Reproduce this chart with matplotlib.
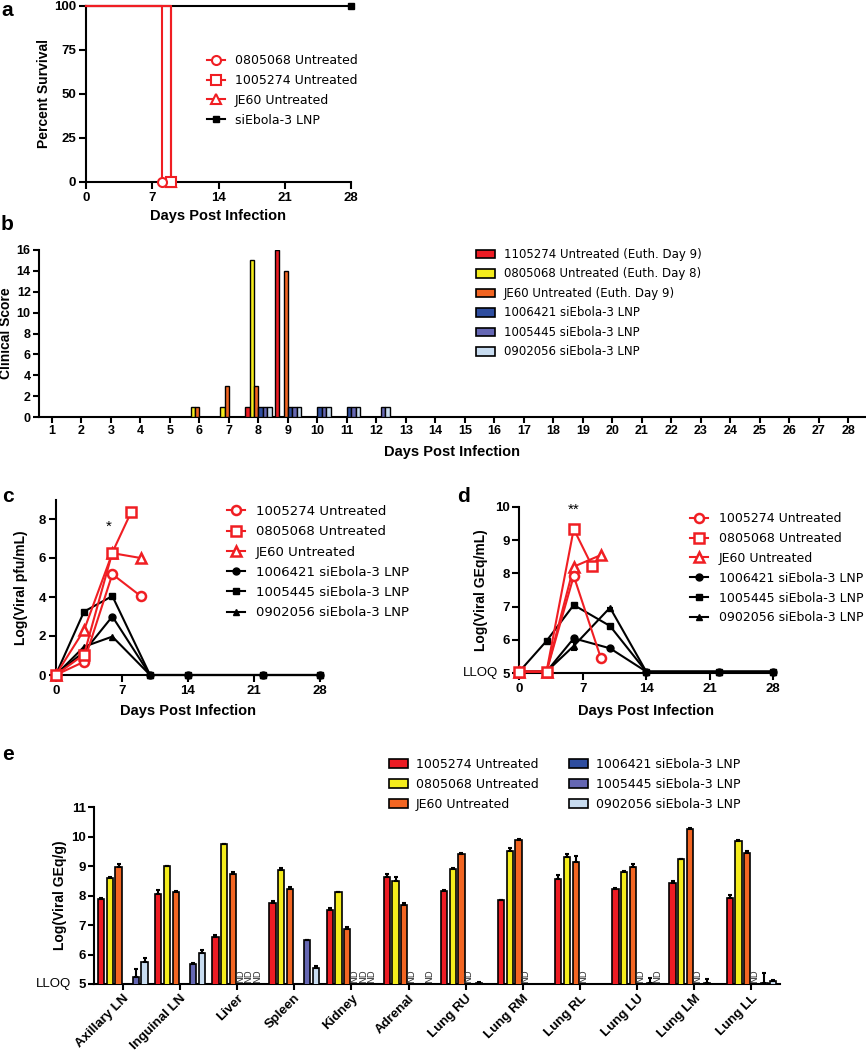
import numpy as np
import matplotlib
matplotlib.use("Agg")
import matplotlib.pyplot as plt
from matplotlib.patches import Patch
from matplotlib.lines import Line2D

plt.rcParams['font.family'] = ['Liberation Sans', 'DejaVu Sans']
plt.rcParams['axes.linewidth'] = 1.5

W, H = 866, 1050

RED = '#ED1C24'
YELLOW = '#F4EC1C'
ORANGE = '#F26522'
BLUE = '#2E4D9F'
PURPLE = '#6567B3'
LIGHT = '#C8DCF0'
LRED = '#F01E23'

# ---------------- data: a (survival) ----------------
surv_labels = ['0805068 Untreated', '1005274 Untreated', 'JE60 Untreated', 'siEbola-3 LNP']
surv_days_0805068 = [0, 8]
surv_0805068 = [100, 0]
surv_days_1005274 = [0, 9]
surv_1005274 = [100, 0]
surv_days_je60 = [0, 9]
surv_je60 = [100, 0]
surv_days_lnp = [0, 28]
surv_lnp = [100, 100]

# ---------------- data: b (clinical score) ----------------
b_days = list(range(1, 29))
b_labels = ['1105274 Untreated (Euth. Day 9)', '0805068 Untreated (Euth. Day 8)',
            'JE60 Untreated (Euth. Day 9)', '1006421 siEbola-3 LNP',
            '1005445 siEbola-3 LNP', '0902056 siEbola-3 LNP']
cs_1105274 = [0, 0, 0, 0, 0, 0, 0, 1, 16, 0, 0, 0, 0, 0, 0, 0, 0, 0, 0, 0, 0, 0, 0, 0, 0, 0, 0, 0]
cs_0805068 = [0, 0, 0, 0, 0, 1, 1, 15, 0, 0, 0, 0, 0, 0, 0, 0, 0, 0, 0, 0, 0, 0, 0, 0, 0, 0, 0, 0]
cs_je60 = [0, 0, 0, 0, 0, 1, 3, 3, 14, 0, 0, 0, 0, 0, 0, 0, 0, 0, 0, 0, 0, 0, 0, 0, 0, 0, 0, 0]
cs_1006421 = [0, 0, 0, 0, 0, 0, 0, 1, 1, 1, 1, 0, 0, 0, 0, 0, 0, 0, 0, 0, 0, 0, 0, 0, 0, 0, 0, 0]
cs_1005445 = [0, 0, 0, 0, 0, 0, 0, 1, 1, 1, 1, 1, 0, 0, 0, 0, 0, 0, 0, 0, 0, 0, 0, 0, 0, 0, 0, 0]
cs_0902056 = [0, 0, 0, 0, 0, 0, 0, 1, 1, 1, 1, 1, 0, 0, 0, 0, 0, 0, 0, 0, 0, 0, 0, 0, 0, 0, 0, 0]

# ---------------- data: c (plasma pfu) ----------------
c_labels = ['1005274 Untreated', '0805068 Untreated', 'JE60 Untreated',
            '1006421 siEbola-3 LNP', '1005445 siEbola-3 LNP', '0902056 siEbola-3 LNP']
c_days_1005274 = [0, 3, 6, 9]
c_1005274 = [0, 0.68, 5.17, 4.05]
c_days_0805068 = [0, 3, 6, 8]
c_0805068 = [0, 1.05, 6.28, 8.36]
c_days_je60 = [0, 3, 6, 9]
c_je60 = [0, 2.3, 6.25, 6.0]
c_days_lnp = [0, 3, 6, 10, 14, 22, 28]
c_1006421 = [0, 1.2, 3.0, 0, 0, 0, 0]
c_1005445 = [0, 3.25, 4.05, 0, 0, 0, 0]
c_0902056 = [0, 1.45, 1.97, 0, 0, 0, 0]

# ---------------- data: d (plasma GEq) ----------------
d_days_1005274 = [0, 3, 6, 9]
d_1005274 = [5.05, 5.05, 7.92, 5.45]
d_days_0805068 = [0, 3, 6, 8]
d_0805068 = [5.05, 5.05, 9.33, 8.23]
d_days_je60 = [0, 3, 6, 9]
d_je60 = [5.05, 5.05, 8.2, 8.55]
d_days_lnp = [0, 3, 6, 10, 14, 22, 28]
d_1006421 = [5.05, 5.05, 6.05, 5.75, 5.05, 5.05, 5.05]
d_1005445 = [5.05, 5.97, 7.05, 6.42, 5.05, 5.05, 5.05]
d_0902056 = [5.05, 5.05, 5.82, 6.97, 5.05, 5.05, 5.05]
d_0902056_err = [0, 0, 0.12, 0, 0, 0, 0]

# ---------------- data: e (tissue GEq) ----------------
tissues = ['Axillary LN', 'Inguinal LN', 'Liver', 'Spleen', 'Kidney', 'Adrenal',
           'Lung RU', 'Lung RM', 'Lung RL', 'Lung LU', 'Lung LM', 'Lung LL']
e_labels = ['1005274 Untreated', '0805068 Untreated', 'JE60 Untreated',
            '1006421 siEbola-3 LNP', '1005445 siEbola-3 LNP', '0902056 siEbola-3 LNP']
nan = np.nan
e_1005274 = [7.88, 8.05, 6.61, 7.76, 7.51, 8.63, 8.17, 7.85, 8.57, 8.21, 8.42, 7.91]
e_0805068 = [8.61, 9.00, 9.74, 8.86, 8.12, 8.49, 8.89, 9.53, 9.32, 8.79, 9.23, 9.86]
e_je60 = [8.96, 8.12, 8.72, 8.22, 6.86, 7.68, 9.41, 9.89, 9.15, 8.96, 10.26, 9.44]
e_1006421 = [nan, nan, nan, nan, nan, nan, nan, nan, nan, nan, nan, nan]
e_1005445 = [5.25, 5.69, nan, 6.48, nan, nan, 5.05, nan, nan, 5.02, 5.02, 5.02]
e_0902056 = [5.74, 6.06, nan, 5.53, nan, nan, nan, nan, nan, nan, nan, 5.10]
err_1005274 = [0.03, 0.13, 0.04, 0.07, 0.07, 0.09, 0.03, 0.0, 0.13, 0.06, 0.07, 0.10]
err_0805068 = [0.02, 0.02, 0.02, 0.07, 0.02, 0.16, 0.05, 0.10, 0.10, 0.06, 0.02, 0.04]
err_je60 = [0.10, 0.05, 0.07, 0.08, 0.06, 0.06, 0.04, 0.04, 0.20, 0.10, 0.03, 0.07]
err_1006421 = [nan, nan, nan, nan, nan, nan, nan, nan, nan, nan, nan, nan]
err_1005445 = [0.27, 0.02, nan, 0.03, nan, nan, 0.03, nan, nan, 0.17, 0.15, 0.36]
err_0902056 = [0.15, 0.10, nan, 0.07, nan, nan, nan, nan, nan, nan, nan, 0.03]
# not-detected samples: tissue index, animal index
nd_tissue = [2, 2, 2, 4, 4, 4, 5, 5, 6, 7, 8, 9, 9, 10, 11]
nd_animal = [3, 4, 5, 3, 4, 5, 3, 5, 3, 3, 3, 3, 5, 3, 3]

bar_colors = [RED, YELLOW, ORANGE, BLUE, PURPLE, LIGHT]

fig = plt.figure(figsize=(W / 100, H / 100), dpi=100)


def px_axes(left, top, right, bottom):
    return fig.add_axes([left / W, 1 - bottom / H, (right - left) / W, (bottom - top) / H])


def style(ax, fs=9.5, length=5):
    ax.spines[['top', 'right']].set_visible(False)
    ax.tick_params(direction='out', length=length, width=1.5, labelsize=fs, pad=2)
    for lab in ax.get_xticklabels() + ax.get_yticklabels():
        lab.set_fontweight('bold')


def labels(ax, xlabel, ylabel, xy, yx, fs=10):
    if xlabel:
        ax.set_xlabel(xlabel, fontsize=fs + 0.5, fontweight='bold')
        ax.xaxis.set_label_coords(0.5, xy)
        ax.xaxis.label.set_va('center')
    ax.set_ylabel(ylabel, fontsize=fs, fontweight='bold')
    ax.yaxis.set_label_coords(yx, 0.5)
    ax.yaxis.label.set_va('center')


def legend(ax, handles, labs, x, y, fs, hl, pad, ls, **kw):
    ax.legend(handles, labs, loc='upper left', bbox_to_anchor=(x / W, 1 - y / H),
              bbox_transform=fig.transFigure, frameon=False, borderpad=0,
              borderaxespad=0, handlelength=hl, handletextpad=pad, labelspacing=ls,
              prop={'family': 'DejaVu Sans', 'size': fs}, **kw)


def panel_letter(x, y, s):
    fig.text(x / W, 1 - y / H, s, fontsize=15, fontweight='bold', va='center', ha='left')


# ---------------- panel a ----------------
ax = px_axes(86, 6, 351, 182)
ax.step(surv_days_lnp, surv_lnp, where='post', color='k', lw=1.5, marker='s', ms=4.5,
        markevery=[1], clip_on=False, zorder=3)
ax.step(surv_days_je60, surv_je60, where='post', color=LRED, lw=1.5, marker='^', ms=7,
        mfc='white', mec=LRED, mew=1.5, markevery=[1], clip_on=False, zorder=4)
ax.step(surv_days_1005274, surv_1005274, where='post', color=LRED, lw=1.5, marker='s', ms=6.5,
        mfc='white', mec=LRED, mew=1.5, markevery=[1], clip_on=False, zorder=5)
ax.step(surv_days_0805068, surv_0805068, where='post', color=LRED, lw=1.5, marker='o', ms=6.5,
        mfc='white', mec=LRED, mew=1.5, markevery=[1], clip_on=False, zorder=5)
ax.set_xlim(0, 28)
ax.set_ylim(0, 100)
ax.set_xticks([0, 7, 14, 21, 28])
ax.set_yticks([0, 25, 50, 75, 100])
style(ax)
labels(ax, 'Days Post Infection', 'Percent Survival', -34 / 176, -42 / 265)
h_a = [Line2D([], [], color=LRED, lw=1.5, marker='o', ms=6.5, mfc='white', mec=LRED, mew=1.5),
       Line2D([], [], color=LRED, lw=1.5, marker='s', ms=6.5, mfc='white', mec=LRED, mew=1.5),
       Line2D([], [], color=LRED, lw=1.5, marker='^', ms=7, mfc='white', mec=LRED, mew=1.5),
       Line2D([], [], color='k', lw=1.5, marker='s', ms=4.5)]
legend(ax, h_a, surv_labels, 207, 54, 9, 1.45, 0.8, 0.55)
panel_letter(1, 10, 'a')

# ---------------- panel b ----------------
ax = px_axes(39, 250, 866, 417)
bw = 0.148
b_series = [cs_1105274, cs_0805068, cs_je60, cs_1006421, cs_1005445, cs_0902056]
for i, vals in enumerate(b_series):
    vals = np.array(vals, dtype=float)
    x = np.array(b_days) + (i - 2.5) * bw
    m = vals > 0
    ax.bar(x[m], vals[m], width=bw, color=bar_colors[i], edgecolor='k', lw=1.0, zorder=3)
ax.set_xlim(0.56, 28.6)
ax.set_ylim(0, 16)
ax.set_xticks(b_days)
ax.set_yticks(range(0, 17, 2))
style(ax, fs=9, length=4)
labels(ax, 'Days Post Infection', 'Clinical Score', -35 / 167, -33 / 827)
h_b = [Patch(facecolor=c, edgecolor='k', lw=1.2) for c in bar_colors]
legend(ax, h_b, b_labels, 476, 248, 8.5, 1.6, 0.76, 0.55, handleheight=0.75)
panel_letter(1, 225, 'b')


# ---------------- panels c, d ----------------
def viral_panel(ax, red_sets, black_sets):
    for days, vals, mk in black_sets:
        ax.plot(days, vals, color='k', lw=1.5, marker=mk, ms=5, clip_on=False, zorder=3)
    for days, vals, mk in red_sets:
        ax.plot(days, vals, color=LRED, lw=1.5, marker=mk, ms=6.5 if mk != '^' else 7,
                mfc='white', mec=LRED, mew=1.8, clip_on=False, zorder=4)


def viral_handles():
    return [Line2D([], [], color=LRED, lw=1.5, marker='o', ms=6.5, mfc='white', mec=LRED, mew=1.8),
            Line2D([], [], color=LRED, lw=1.5, marker='s', ms=6.5, mfc='white', mec=LRED, mew=1.8),
            Line2D([], [], color=LRED, lw=1.5, marker='^', ms=7, mfc='white', mec=LRED, mew=1.8),
            Line2D([], [], color='k', lw=1.5, marker='o', ms=5),
            Line2D([], [], color='k', lw=1.5, marker='s', ms=5),
            Line2D([], [], color='k', lw=1.5, marker='^', ms=5)]


ax = px_axes(55.7, 499.5, 320, 675)
viral_panel(ax,
            [(c_days_je60, c_je60, '^'), (c_days_1005274, c_1005274, 'o'),
             (c_days_0805068, c_0805068, 's')],
            [(c_days_lnp, c_1006421, 'o'), (c_days_lnp, c_1005445, 's'),
             (c_days_lnp, c_0902056, '^')])
ax.text(5.65, 7.6, '*', fontsize=11, ha='center', va='center')
ax.set_xlim(0, 28)
ax.set_ylim(0, 9)
ax.set_xticks([0, 7, 14, 21, 28])
ax.set_yticks([0, 2, 4, 6, 8])
style(ax)
labels(ax, 'Days Post Infection', 'Log(Viral pfu/mL)', -36 / 175.5, -35 / 264.3)
legend(ax, viral_handles(), c_labels, 227, 505, 9.5, 1.4, 0.8, 0.55)
panel_letter(2, 497, 'c')

ax = px_axes(519.3, 506.7, 773.3, 673.3)
viral_panel(ax,
            [(d_days_je60, d_je60, '^'), (d_days_1005274, d_1005274, 'o'),
             (d_days_0805068, d_0805068, 's')],
            [(d_days_lnp, d_1006421, 'o'), (d_days_lnp, d_1005445, 's'),
             (d_days_lnp, d_0902056, '^')])
ax.errorbar(d_days_lnp, d_0902056, yerr=d_0902056_err, fmt='none', ecolor='k',
            elinewidth=1.5, capsize=2.5, capthick=1.5, zorder=3)
ax.text(6.0, 9.92, '**', fontsize=11, ha='center', va='center')
ax.set_xlim(0, 28)
ax.set_ylim(5, 10)
ax.set_xticks([0, 7, 14, 21, 28])
ax.set_yticks([5, 6, 7, 8, 9, 10])
style(ax)
labels(ax, 'Days Post Infection', 'Log(Viral GEq/mL)', -37.7 / 166.6, -38 / 254)
ax.annotate('LLOQ', xy=(0, 5), xycoords=('axes fraction', 'data'), xytext=(-15.5, 0),
            textcoords='offset points', ha='right', va='center', fontsize=9.5)
legend(ax, viral_handles(), c_labels, 690, 512, 9, 1.45, 0.85, 0.55)
panel_letter(457, 497, 'd')

# ---------------- panel e ----------------
ax = px_axes(94.3, 807.3, 780, 984)
e_series = [e_1005274, e_0805068, e_je60, e_1006421, e_1005445, e_0902056]
e_errs = [err_1005274, err_0805068, err_je60, err_1006421, err_1005445, err_0902056]
xs = np.arange(len(tissues))
step = 0.152
for i, (vals, errs) in enumerate(zip(e_series, e_errs)):
    vals = np.array(vals)
    errs = np.array(errs)
    x = xs + (i - 2.5) * step
    m = ~np.isnan(vals)
    ax.bar(x[m], vals[m], width=0.11, color=bar_colors[i], edgecolor='k', lw=1.2, zorder=3)
    ax.errorbar(x[m], vals[m], yerr=[np.zeros(m.sum()), errs[m]], fmt='none', ecolor='k',
                elinewidth=1.5, capsize=1.5, capthick=1.5, zorder=4)
for t, a in zip(nd_tissue, nd_animal):
    ax.text(t + (a - 2.5) * step - 0.02, 5.03, 'ND', rotation=90, fontsize=6.5,
            ha='center', va='bottom', color='#333333', family='DejaVu Sans')
ax.set_xlim(-0.5, 11.5)
ax.set_ylim(5, 11)
ax.set_yticks([5, 6, 7, 8, 9, 10, 11])
ax.set_xticks(xs)
ax.set_xticklabels(tissues, rotation=45, ha='right', rotation_mode='anchor', fontsize=9.5)
style(ax, length=4)
labels(ax, None, 'Log(Viral GEq/g)', 0, -34 / 685.7)
ax.annotate('LLOQ', xy=(0, 5), xycoords=('axes fraction', 'data'), xytext=(-17, 0),
            textcoords='offset points', ha='right', va='center', fontsize=9.5)
h_e = [Patch(facecolor=c, edgecolor='k', lw=1.2) for c in bar_colors]
legend(ax, h_e, e_labels, 389, 758, 9, 1.52, 0.64, 0.55, handleheight=0.75,
       ncol=2, columnspacing=2.4)
panel_letter(2, 755, 'e')

fig.savefig('out.png', dpi=100)
